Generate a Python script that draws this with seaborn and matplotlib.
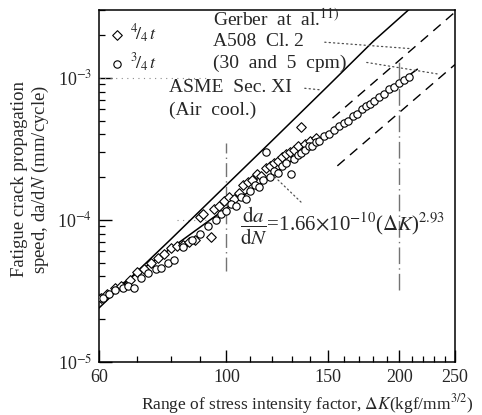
import matplotlib
matplotlib.use("Agg")
import matplotlib.pyplot as plt
import seaborn as sns
import pandas as pd
from matplotlib.ticker import FixedLocator, NullFormatter, FixedFormatter

sns.set_theme(style="white")
plt.rcParams["font.family"] = ["Liberation Serif", "DejaVu Serif"]
plt.rcParams["mathtext.fontset"] = "stix"

# ---- data ----
dk_34 = [61, 62.5, 64, 66, 67.5, 69, 71, 73, 75.5, 77, 79, 81, 84, 87, 90, 93, 96, 98, 100,
         102, 104, 106, 108, 110, 112, 114, 116, 117, 119, 121, 123, 125, 127, 129.5, 131,
         133, 135, 137, 139, 141, 143, 145, 148, 151, 154, 157, 160, 163, 166, 169, 172,
         175, 178, 181, 184, 188, 192, 196, 200, 204, 208]
rate_34 = [2.8e-5, 3.0e-5, 3.2e-5, 3.3e-5, 3.4e-5, 3.3e-5, 3.9e-5, 4.2e-5, 4.5e-5, 4.6e-5,
           5.0e-5, 5.2e-5, 6.4e-5, 7.2e-5, 8.0e-5, 9.0e-5, 1.0e-4, 1.1e-4, 1.15e-4,
           1.3e-4, 1.25e-4, 1.45e-4, 1.4e-4, 1.6e-4, 1.75e-4, 1.7e-4, 1.9e-4, 3.0e-4, 2.0e-4,
           2.2e-4, 2.15e-4, 2.4e-4, 2.5e-4, 2.1e-4, 2.7e-4, 2.85e-4, 2.95e-4, 3.1e-4, 3.3e-4,
           3.3e-4, 3.55e-4, 3.6e-4, 3.9e-4, 4.0e-4, 4.3e-4, 4.6e-4, 4.8e-4, 5.0e-4, 5.4e-4,
           5.6e-4, 6.0e-4, 6.3e-4, 6.5e-4, 6.9e-4, 7.3e-4, 7.7e-4, 8.3e-4, 8.6e-4, 9.2e-4,
           9.6e-4, 1.02e-3]
dk_44 = [60.5, 62, 64, 65.5, 68, 70, 72, 74, 76, 78, 80, 82, 84, 86, 88, 90, 91, 94, 95, 97,
         99, 101, 103, 105, 107, 109, 111, 113, 115, 117, 119, 121, 123, 125, 127, 129, 131,
         133, 135, 137, 140, 143]
rate_44 = [2.8e-5, 3.0e-5, 3.3e-5, 3.4e-5, 3.8e-5, 4.3e-5, 4.5e-5, 5.0e-5, 5.4e-5, 5.8e-5,
           6.3e-5, 6.5e-5, 6.7e-5, 7.0e-5, 7.2e-5, 1.05e-4, 1.1e-4, 7.6e-5, 1.2e-4, 1.25e-4,
           1.35e-4, 1.45e-4, 1.4e-4, 1.55e-4, 1.75e-4, 1.85e-4, 1.9e-4, 2.1e-4, 2.05e-4,
           2.3e-4, 2.4e-4, 2.5e-4, 2.6e-4, 2.75e-4, 2.9e-4, 3.0e-4, 3.1e-4, 3.3e-4, 4.5e-4,
           3.4e-4, 3.6e-4, 3.8e-4]
gerber_dk = [60, 80, 100, 120, 150, 180, 213]
gerber_rate = [2.4e-5, 7.3e-5, 1.76e-4, 3.6e-4, 8.7e-4, 1.8e-3, 3.3e-3]
upper_dk = [153, 250]
upper_rate = [5.2e-4, 2.9e-3]
lower_dk = [156, 250]
lower_rate = [2.4e-4, 1.24e-3]
fit_dk = [60, 215]
fit_rate = [2.7e-5, 1.15e-3]

x_ticks = [60, 100, 150, 200, 250]
y_ticks = [1e-5, 1e-4, 1e-3]
y_labels = ["10$^{-5}$", "10$^{-4}$", "10$^{-3}$"]

W, H = 482, 415
fig = plt.figure(figsize=(W / 100, H / 100), dpi=100)
ax = fig.add_axes([99 / W, 1 - 362 / H, (455 - 99) / W, (362 - 10) / H])

df34 = pd.DataFrame({"dk": dk_34, "rate": rate_34})
df44 = pd.DataFrame({"dk": dk_44, "rate": rate_44})

ax.set_xscale("log")
ax.set_yscale("log")

# faint broken grid remnants
ax.plot([100, 100], [4.4e-5, 3.5e-4], color="0.45", lw=1.0, ls=(0, (10, 3, 1, 3)), zorder=1)
ax.plot([200, 200], [3.2e-5, 1.34e-3], color="0.45", lw=1.0, ls=(0, (12, 3, 1, 3)), zorder=1)
ax.plot([60, 92], [1e-3, 1e-3], color="0.55", lw=0.8, ls=(0, (1, 4)), zorder=1)
ax.plot([82, 92], [1e-4, 1e-4], color="0.55", lw=0.8, ls=(0, (1, 4)), zorder=1)

sns.lineplot(x=gerber_dk, y=gerber_rate, ax=ax, color="black", lw=1.1, sort=False, zorder=3)
sns.lineplot(x=fit_dk, y=fit_rate, ax=ax, color="black", lw=1.1, sort=False, zorder=3)
sns.lineplot(x=upper_dk, y=upper_rate, ax=ax, color="black", lw=1.0, sort=False, zorder=3)
sns.lineplot(x=lower_dk, y=lower_rate, ax=ax, color="black", lw=1.0, sort=False, zorder=3)
for ln in ax.lines[-2:]:
    ln.set_linestyle((0, (7, 5)))

sns.scatterplot(data=df44, x="dk", y="rate", ax=ax, marker="D", s=24, facecolor="white",
                edgecolor="black", linewidth=0.8, zorder=4, label=r"$^{4}\!/_{4}\,t$")
sns.scatterplot(data=df34, x="dk", y="rate", ax=ax, marker="o", s=28, facecolor="white",
                edgecolor="black", linewidth=0.8, zorder=5, label=r"$^{3}\!/_{4}\,t$")

ax.set_xlim(60, 250)
ax.set_ylim(1e-5, 3e-3)

ax.xaxis.set_major_locator(FixedLocator(x_ticks))
ax.xaxis.set_major_formatter(FixedFormatter([str(v) for v in x_ticks]))
ax.xaxis.set_minor_locator(FixedLocator([70, 80, 90, 110, 120, 130, 140, 160, 170, 180, 190,
                                         210, 220, 230, 240]))
ax.xaxis.set_minor_formatter(NullFormatter())
ax.yaxis.set_major_locator(FixedLocator(y_ticks))
ax.yaxis.set_major_formatter(FixedFormatter(y_labels))
ax.yaxis.set_minor_locator(FixedLocator([m * d for d in (1e-5, 1e-4, 1e-3) for m in range(2, 10)]))
ax.yaxis.set_minor_formatter(NullFormatter())
ax.tick_params(which="major", direction="in", length=9, width=1.0, color="black",
               labelsize=13, pad=5, bottom=True, left=True, top=False, right=False)
ax.tick_params(which="minor", direction="in", length=4, width=0.9, color="black",
               bottom=True, left=True, top=False, right=False)
for s in ax.spines.values():
    s.set_color("black")
    s.set_linewidth(1.1)

ax.set_xlabel(r"Range of stress intensity factor, $\mathit{\Delta K}$(kgf/mm$^{3/2}$)",
              fontsize=12.5)
ax.xaxis.set_label_coords(0.585, -0.085)
ax.set_ylabel("Fatigue crack propagation\nspeed, da/d$N$ (mm/cycle)", fontsize=13.5,
              linespacing=1.1)
ax.yaxis.set_label_coords(-0.135, 0.52)

leg = ax.legend(loc="upper left", frameon=False, fontsize=13, handletextpad=0.3,
                labelspacing=0.35, borderaxespad=0.2, handlelength=0.8,
                bbox_to_anchor=(0.0, 0.995))

def fpx(x, y):
    return x / W, 1 - y / H

fs = 14
fig.text(*fpx(213, 19), r"Gerber  at  al.$^{11)}$", fontsize=fs, va="center", ha="left")
fig.text(*fpx(213, 42), "A508  Cl. 2", fontsize=fs, va="center", ha="left")
fig.text(*fpx(213, 63), "(30  and  5  cpm)", fontsize=fs, va="center", ha="left")
fig.text(*fpx(169, 88), "ASME  Sec. XI", fontsize=fs, va="center", ha="left")
fig.text(*fpx(169, 110), "(Air  cool.)", fontsize=fs, va="center", ha="left")
fig.text(*fpx(240, 226), r"$\dfrac{\mathrm{d}a}{\mathrm{d}N}$=1.66$\times$10$^{-10}$($\mathit{\Delta K}$)$^{2.93}$",
         fontsize=15, va="center", ha="left")

lead = dict(arrowstyle="-", color="0.3", lw=0.9, ls=(0, (1, 2.5)))
ax.annotate("", xy=(147, 8.2e-4), xycoords="data", xytext=(302, H - 88),
            textcoords="figure pixels", arrowprops=lead)
ax.annotate("", xy=(211, 1.6e-3), xycoords="data", xytext=(322, H - 42),
            textcoords="figure pixels", arrowprops=lead)
ax.annotate("", xy=(238, 1.05e-3), xycoords="data", xytext=(364, H - 62),
            textcoords="figure pixels", arrowprops=lead)
ax.annotate("", xy=(120, 2.1e-4), xycoords="data", xytext=(303, H - 204),
            textcoords="figure pixels", arrowprops=lead)

fig.savefig("out.png", dpi=100)
